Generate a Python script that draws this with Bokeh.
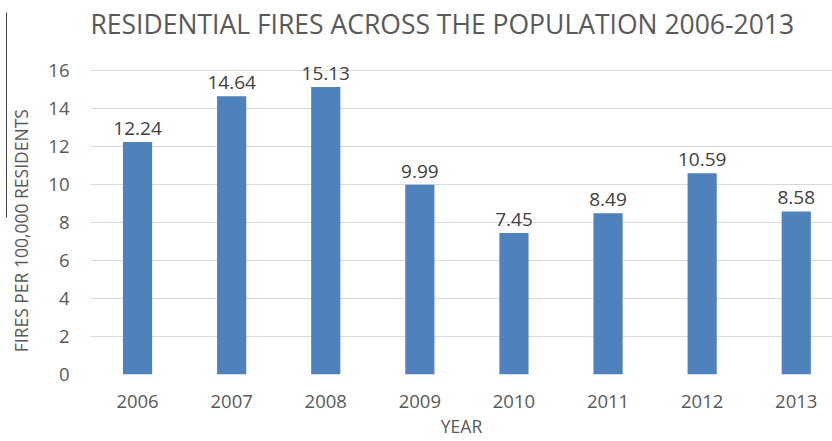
from bokeh.plotting import figure
from bokeh.models import Range1d, FixedTicker, ColumnDataSource, LabelSet, Label, LinearAxis
from bokeh.core.properties import value
from bokeh.embed import file_html
from bokeh.resources import INLINE

years = [2006, 2007, 2008, 2009, 2010, 2011, 2012, 2013]
fires = [12.24, 14.64, 15.13, 9.99, 7.45, 8.49, 10.59, 8.58]
labels = ["12.24", "14.64", "15.13", "9.99", "7.45", "8.49", "10.59", "8.58"]
y_ticks = [0, 2, 4, 6, 8, 10, 12, 14, 16]
TITLE = "RESIDENTIAL FIRES ACROSS THE POPULATION 2006-2013"

FONT = "Open Sans"
GREY = "#595959"

# layout (pixels)
W, H = 832, 441
FRAME_LEFT, FRAME_BOTTOM = 90, 374
PX_PER_UNIT = 19.0      # vertical scale
PX_PER_CAT = 94.1       # horizontal spacing of the years
y_end = FRAME_BOTTOM / PX_PER_UNIT          # frame reaches the top of the canvas
x_start = years[0] - 0.5
x_end = x_start + (W - FRAME_LEFT) / PX_PER_CAT

src = ColumnDataSource(dict(x=years, y=fires, t=labels))

p = figure(width=W, height=H, output_backend="svg", toolbar_location=None, title=None,
           x_range=Range1d(x_start, x_end), y_range=Range1d(0, y_end),
           min_border_left=FRAME_LEFT, min_border_right=0, min_border_top=0,
           min_border_bottom=H - FRAME_BOTTOM)
p.outline_line_color = None
p.background_fill_color = "white"
p.border_fill_color = "white"

p.vbar(x="x", top="y", width=0.31, source=src, fill_color="#4F81BD", line_color=None)

ls = LabelSet(x="x", y="y", text="t", source=src, text_align="center", text_baseline="alphabetic",
              y_offset=7, text_font=value(FONT), text_font_size=value("19px"), text_color="#404040")
p.add_layout(ls)

p.xgrid.grid_line_color = None
p.ygrid.grid_line_color = "#D9D9D9"
p.ygrid.grid_line_width = 1
p.ygrid.ticker = FixedTicker(ticks=y_ticks)

p.yaxis.ticker = FixedTicker(ticks=y_ticks)
p.xaxis.ticker = FixedTicker(ticks=years)
for ax in (p.xaxis, p.yaxis):
    ax.axis_line_color = None
    ax.major_tick_line_color = None
    ax.minor_tick_line_color = None
    ax.major_label_text_font = FONT
    ax.major_label_text_font_size = "18.5px"
    ax.major_label_text_color = GREY
    ax.axis_label_text_font = FONT
    ax.axis_label_text_font_style = "normal"
    ax.axis_label_text_color = GREY
    ax.axis_label_text_font_size = "17.5px"
p.yaxis.major_label_standoff = 15
p.xaxis.major_label_standoff = 14
p.xaxis.axis_label = "YEAR"
p.xaxis.axis_label_standoff = 3
p.yaxis.axis_label = "FIRES PER 100,000 RESIDENTS" + "\u00a0" * 19
p.yaxis.axis_label_standoff = 12

# thin dark edge line at the far left of the picture
edge = LinearAxis(ticker=FixedTicker(ticks=[]), bounds=((FRAME_BOTTOM - 217) / PX_PER_UNIT,
                                                         (FRAME_BOTTOM - 12) / PX_PER_UNIT),
                  axis_line_color="#404040", axis_line_width=1,
                  major_tick_line_color=None, minor_tick_line_color=None)
p.add_layout(edge, "left")

title = Label(x=x_start, y=(FRAME_BOTTOM - 23) / PX_PER_UNIT, text=TITLE,
              text_font=FONT, text_font_size="26.5px", text_color=GREY,
              text_baseline="alphabetic", text_align="left")
p.add_layout(title)

open("out.html", "w").write(file_html(p, INLINE))
